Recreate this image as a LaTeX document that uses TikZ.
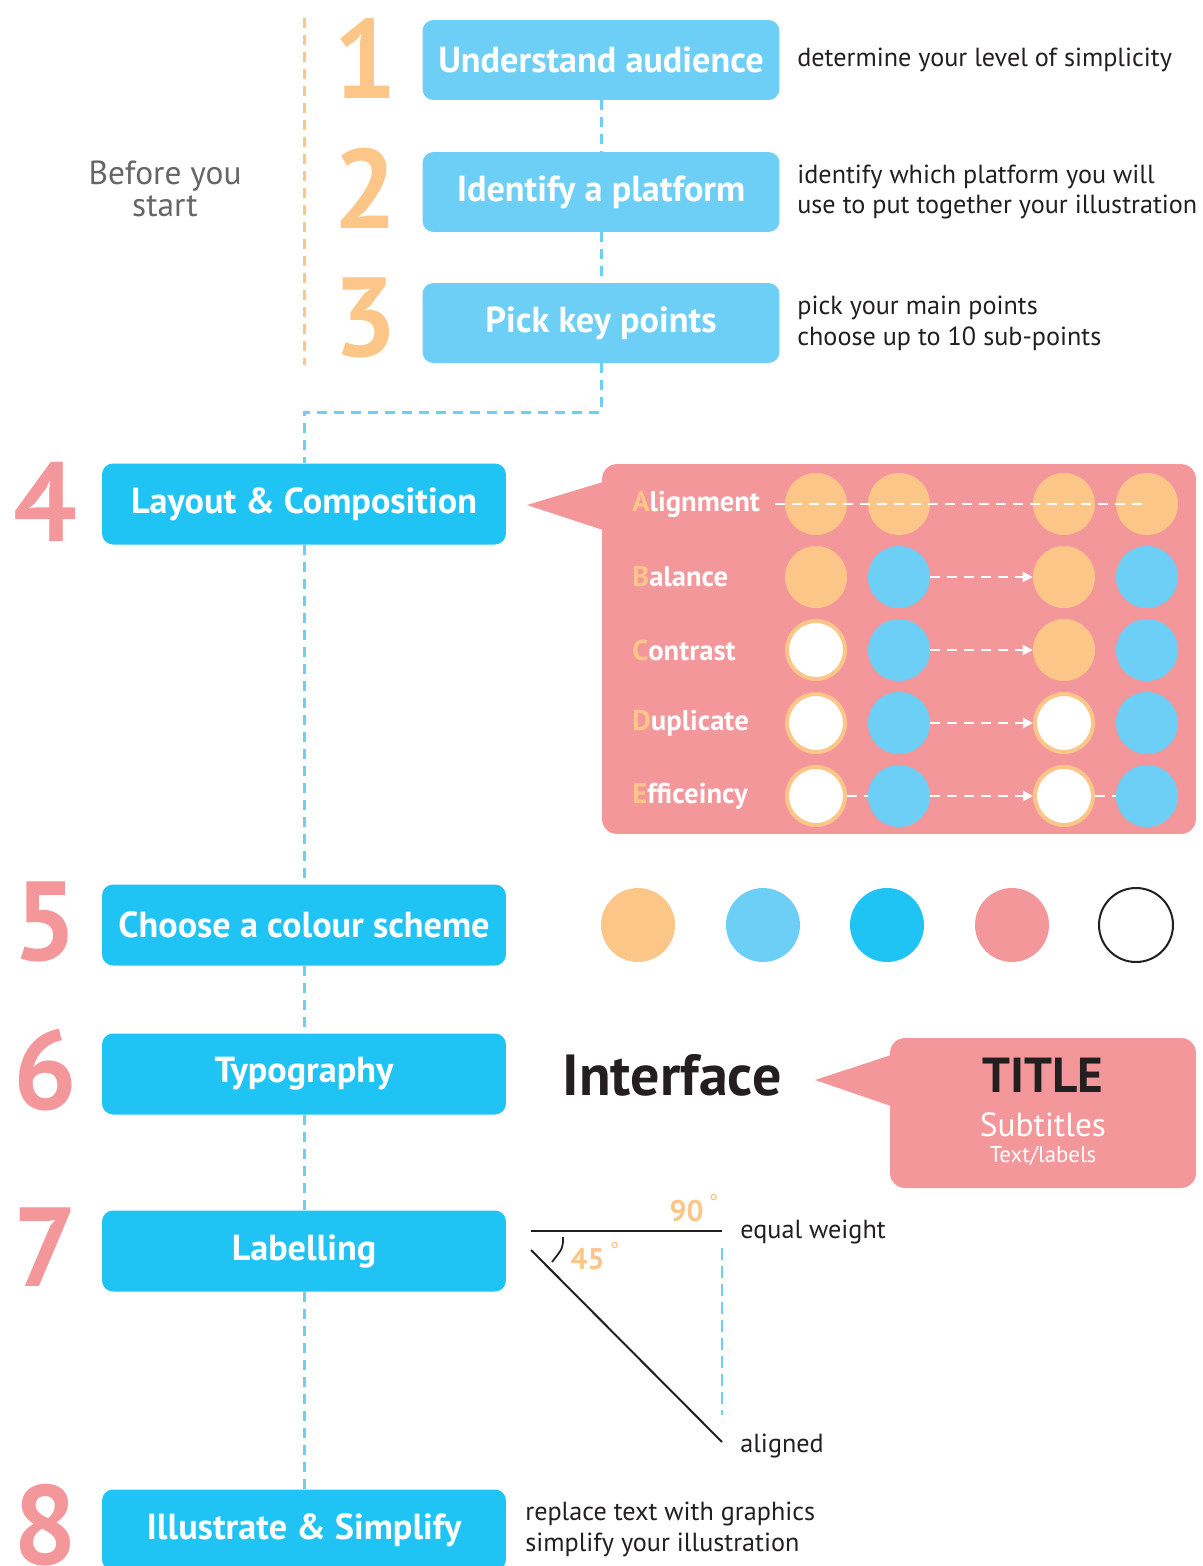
\documentclass[tikz,border=0pt]{standalone}
\usepackage{fontspec}
\setmainfont{PT Sans}
\usetikzlibrary{arrows.meta}

\definecolor{sky}{HTML}{6DCFF6}
\definecolor{cyanbox}{HTML}{20C4F4}
\definecolor{peach}{HTML}{FBC688}
\definecolor{rose}{HTML}{F4979B}
\definecolor{slate}{HTML}{666666}
\definecolor{ink}{HTML}{231F20}

\newcommand{\degring}{\,{\fontsize{13}{13}\mdseries\selectfont\raisebox{0.9ex}{°}}}

\tikzset{
  prebox/.style={fill=sky, rounded corners=0.22cm, minimum width=7.14cm, minimum height=1.6cm,
    text=white, font=\bfseries\fontsize{20.6}{22}\selectfont},
  stepbox/.style={prebox, fill=cyanbox, minimum width=8.08cm, minimum height=1.62cm},
  prenum/.style={text=peach, inner sep=0, font=\bfseries\fontsize{64}{64}\selectfont},
  stepnum/.style={prenum, text=rose},
  note/.style={anchor=west, align=left, text=ink, inner sep=0, font=\fontsize{14.9}{17.6}\selectfont},
  link/.style={sky, line width=0.06cm, dash pattern=on 0.2cm off 0.14cm},
  prerule/.style={peach, line width=0.06cm, dash pattern=on 0.2cm off 0.14cm},
  rowlabel/.style={anchor=west, text=white, inner sep=0, font=\bfseries\fontsize{16.3}{16}\selectfont},
  dot/.style={circle, inner sep=0, minimum size=1.24cm},
  peachdot/.style={dot, fill=peach},
  skydot/.style={dot, fill=sky},
  ringdot/.style={dot, fill=white, draw=peach, line width=0.08cm, minimum size=1.16cm},
  wlink/.style={white, line width=0.04cm, dash pattern=on 0.2cm off 0.14cm},
  swatch/.style={circle, inner sep=0, minimum size=1.48cm},
  angletext/.style={text=peach, inner sep=0, font=\bfseries\fontsize{17}{17}\selectfont},
}

\begin{document}
\begin{tikzpicture}[x=0.02cm, y=-0.02cm]
\useasboundingbox (0,0) rectangle (1203,1566);

% before you start
\draw[prerule] (304,18) -- (304,365);
\node[align=center, text=slate, font=\fontsize{19}{18}\selectfont] (pre) at (165,189) {Before you\\start};

\node[prebox] (s1) at (601,60) {Understand audience};
\node[prebox] (s2) at (601,192) {Identify a platform};
\node[prebox] (s3) at (601,323) {Pick key points};
\node[prenum] (n1) at (365,58) {1};
\node[prenum] (n2) at (365,188) {2};
\node[prenum] (n3) at (365,318) {3};

\node[note] (t1) at (797,60) {determine your level of simplicity};
\node[note] (t2) at (797,192) {identify which platform you will\\use to put together your illustration};
\node[note] (t3) at (797,323) {pick your main points\\choose up to 10 sub-points};

% the steps
\node[stepbox] (s4) at (304,504) {Layout \& Composition};
\node[stepbox] (s5) at (304,925) {Choose a colour scheme};
\node[stepbox] (s6) at (304,1074) {Typography};
\node[stepbox] (s7) at (304,1251) {Labelling};
\node[stepbox] (s8) at (304,1530) {Illustrate \& Simplify};
\node[stepnum] (n4) at (45,502) {4};
\node[stepnum] (n5) at (45,922) {5};
\node[stepnum] (n6) at (45,1070) {6};
\node[stepnum] (n7) at (45,1247) {7};
\node[stepnum] (n8) at (45,1525) {8};

\coordinate (turn) at (601,412);
\draw[link] (s1.south) -- (s2.north);
\draw[link] (s2.south) -- (s3.north);
\draw[link] (s3.south) -- (turn) -| (s4.north);
\draw[link] (s4.south) -- (s5.north);
\draw[link] (s5.south) -- (s6.north);
\draw[link] (s6.south) -- (s7.north);
\draw[link] (s7.south) -- (s8.north);

% layout panel
\node[fill=rose, rounded corners=0.3cm, minimum width=11.88cm, minimum height=7.4cm] (panel) at (899,649) {};
\fill[rose] (527,505) -- (603,482) -- (603,530) -- cycle;
\foreach \head/\tail/\ka/\kb/\kc/\kd [count=\i] in {
    A/lignment/peachdot/peachdot/peachdot/peachdot,
    B/alance/peachdot/skydot/peachdot/skydot,
    C/ontrast/ringdot/skydot/peachdot/skydot,
    D/uplicate/ringdot/skydot/ringdot/skydot,
    E/fficeincy/ringdot/skydot/ringdot/skydot}{
  \pgfmathsetmacro\y{504+73*(\i-1)}
  \node[rowlabel] (lab\i) at (632,\y) {{\color{peach}\head}\tail};
  \node[\ka] (a\i) at (816,\y) {};
  \node[\kb] (b\i) at (899,\y) {};
  \node[\kc] (c\i) at (1064,\y) {};
  \node[\kd] (d\i) at (1147,\y) {};
}
\draw[wlink] ([xshift=-0.2cm]a1.west) -- (d1.center);
\foreach \i in {2,...,5}
  \draw[wlink, -{Triangle[length=0.2cm, width=0.2cm]}] (b\i.east) -- (c\i.west);
\draw[wlink] (a5.east) -- (b5.west);
\draw[wlink] (c5.east) -- (d5.west);

% colour scheme
\node[swatch, fill=peach] (k1) at (638,925) {};
\node[swatch, fill=sky] (k2) at (763,925) {};
\node[swatch, fill=cyanbox] (k3) at (887,925) {};
\node[swatch, fill=rose] (k4) at (1012,925) {};
\node[swatch, draw=ink, line width=0.04cm] (k5) at (1136,925) {};

% typography
\node[text=ink, font=\bfseries\fontsize{33}{33}\selectfont] (face) at (672,1075) {Interface};
\node[fill=rose, rounded corners=0.3cm, minimum width=6.12cm, minimum height=3cm] (card) at (1043,1113) {};
\fill[rose] (815,1080) -- (891,1055) -- (891,1106) -- cycle;
\node[text=ink, font=\bfseries\fontsize{28}{28}\selectfont] (title) at (1043,1075) {TITLE};
\node[text=white, font=\fontsize{19}{19}\selectfont] (sub) at (1043,1125) {Subtitles};
\node[text=white, font=\fontsize{13}{13}\selectfont] (lbl) at (1043,1156) {Text/labels};

% labelling angles
\coordinate (h0) at (531,1231);
\coordinate (h1) at (722,1231);
\coordinate (g0) at (531,1250);
\coordinate (g1) at (722,1442);
\coordinate (v0) at (722,1248);
\coordinate (v1) at (722,1415);
\coordinate (m0) at (563,1237);
\coordinate (m1) at (552,1262);
\draw[ink, line width=0.04cm] (h0) -- (h1);
\draw[ink, line width=0.04cm] (g0) -- (g1);
\draw[ink, line width=0.035cm] (m0) .. controls (563,1248) .. (m1);
\draw[sky, line width=0.04cm, dash pattern=on 0.24cm off 0.12cm] (v0) -- (v1);
\node[angletext] (ninety) at (694,1208) {90\degring};
\node[angletext] (half) at (595,1256) {45\degring};
\node[note] (eq) at (740,1232) {equal weight};
\node[note] (al) at (740,1446) {aligned};

% simplify
\node[note] (t8) at (525,1529) {replace text with graphics\\simplify your illustration};
\end{tikzpicture}
\end{document}
